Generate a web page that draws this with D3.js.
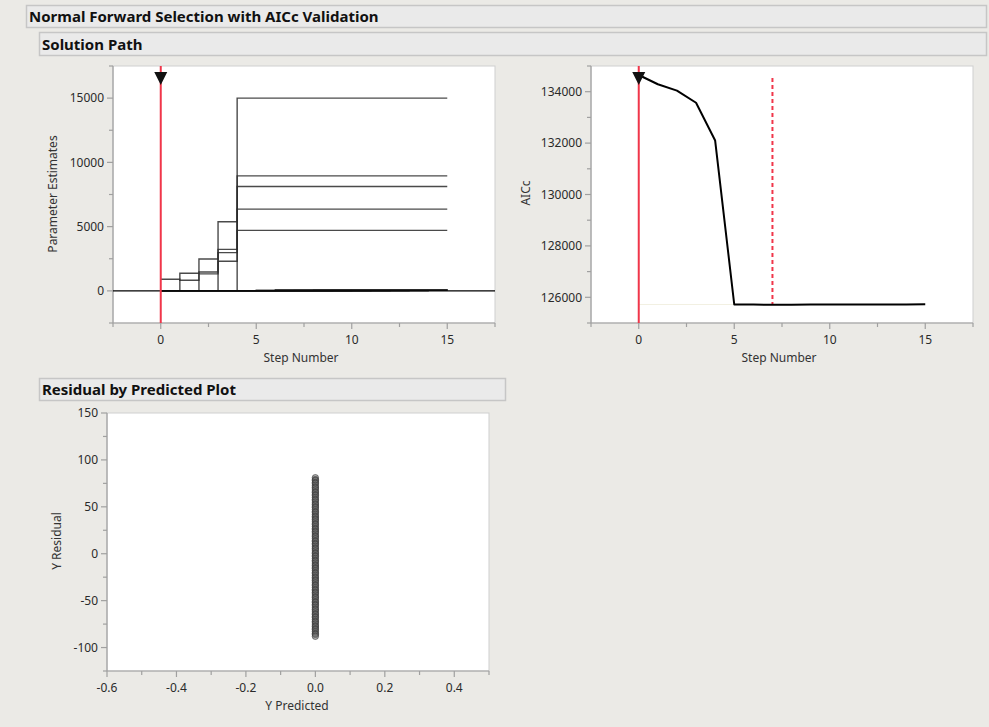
<!DOCTYPE html>
<html>
<head>
<meta charset="utf-8">
<script src="https://cdn.jsdelivr.net/npm/d3@7"></script>
<style>
  body { margin: 0; background: #ebeae6; }
  svg { display: block; font-family: "Noto Sans", sans-serif; }
</style>
</head>
<body>
<svg width="989" height="727"></svg>
<script>
// step numbers of the forward selection
const stepNumbers = [0, 1, 2, 3, 4, 5, 6, 7, 8, 9, 10, 11, 12, 13, 14, 15];

// parameter estimates per step (one array per term)
const estA = [900, 830, 1320, 2300, 4710, 4710, 4710, 4710, 4710, 4710, 4710, 4710, 4710, 4710, 4710, 4710];
const estB = [0, 1370, 1470, 2975, 6360, 6360, 6360, 6360, 6360, 6360, 6360, 6360, 6360, 6360, 6360, 6360];
const estC = [0, 0, 2480, 3230, 8120, 8120, 8120, 8120, 8120, 8120, 8120, 8120, 8120, 8120, 8120, 8120];
const estD = [0, 0, 0, 5380, 15000, 15000, 15000, 15000, 15000, 15000, 15000, 15000, 15000, 15000, 15000, 15000];
const estE = [0, 0, 0, 0, 8950, 8950, 8950, 8950, 8950, 8950, 8950, 8950, 8950, 8950, 8950, 8950];
const estF = [0, 0, 0, 0, 0, 60, 60, 60, 60, 60, 60, 60, 60, 60, 60, 60];
const estG = [0, 0, 0, 0, 0, 0, 85, 85, 85, 85, 85, 85, 85, 85, 85, 85];
const estH = [0, 0, 0, 0, 0, 0, 0, 40, 40, 40, 40, 40, 40, 40, 40, 40];
const estI = [0, 0, 0, 0, 0, 0, 0, 0, 95, 95, 95, 95, 95, 95, 95, 95];
const estJ = [0, 0, 0, 0, 0, 0, 0, 0, 0, 70, 70, 70, 70, 70, 70, 70];
const estK = [0, 0, 0, 0, 0, 0, 0, 0, 0, 0, 55, 55, 55, 55, 55, 55];
const estL = [0, 0, 0, 0, 0, 0, 0, 0, 0, 0, 0, 80, 80, 80, 80, 80];
const estM = [0, 0, 0, 0, 0, 0, 0, 0, 0, 0, 0, 0, 45, 45, 45, 45];
const estN = [0, 0, 0, 0, 0, 0, 0, 0, 0, 0, 0, 0, 0, 90, 90, 90];
const estO = [0, 0, 0, 0, 0, 0, 0, 0, 0, 0, 0, 0, 0, 0, 65, 65];
const estimateSeries = [estA, estB, estC, estD, estE, estF, estG, estH, estI, estJ, estK, estL, estM, estN, estO];

// AICc per step
const aicc = [134650, 134290, 134040, 133570, 132100, 125720, 125716, 125712, 125714, 125716, 125718, 125719, 125720, 125722, 125724, 125728];
const bestStep = 7;
const currentStep = 0;

// residual by predicted (all predictions are 0)
const predicted = 0;
const residuals = [81, 79, 78, 76, 75, 73, 71, 70, 68, 66, 65, 63, 62, 60, 58, 57, 55, 53, 52, 50,
  49, 47, 45, 44, 42, 40, 39, 37, 36, 34, 32, 31, 29, 27, 26, 24, 23, 21, 19, 18,
  16, 14, 13, 11, 10, 8, 6, 5, 3, 1, 0, -2, -3, -5, -7, -8, -10, -12, -13, -15,
  -16, -18, -20, -21, -23, -25, -26, -28, -29, -31, -33, -34, -36, -38, -39, -41,
  -42, -44, -46, -47, -49, -51, -52, -54, -55, -57, -59, -60, -62, -64, -65, -67,
  -68, -70, -72, -73, -75, -77, -78, -80, -81, -83, -85, -86, -88];

// tick labels
const stepTicks = [0, 5, 10, 15];
const stepMinor = [-2.5, 2.5, 7.5, 12.5, 17.5];
const estTicks = [0, 5000, 10000, 15000];
const estMinor = [-2500, 2500, 7500, 12500, 17500];
const aiccTicks = [126000, 128000, 130000, 132000, 134000];
const aiccMinor = [125000, 127000, 129000, 131000, 133000, 135000];
const predTicks = [-0.6, -0.4, -0.2, 0.0, 0.2, 0.4];
const predMinor = [-0.5, -0.3, -0.1, 0.1, 0.3, 0.5];
const residTicks = [-100, -50, 0, 50, 100, 150];
const residMinor = [-125, -75, -25, 25, 75, 125];

const svg = d3.select('svg');
const RED = '#f0364a';

// outline header boxes
function header(x, y, w, h, label, ty) {
  svg.append('rect')
    .attr('x', x + 0.5).attr('y', y + 0.5).attr('width', w).attr('height', h)
    .attr('fill', '#eaeaea').attr('stroke', '#c6c6c6').attr('stroke-width', 1.5);
  svg.append('text').attr('x', x + 3).attr('y', ty)
    .attr('font-size', 15).attr('font-weight', 'bold').attr('fill', '#111')
    .text(label);
}
header(26, 5, 960, 22, 'Normal Forward Selection with AICc Validation', 21.5);
header(39, 32, 947, 23, 'Solution Path', 49.5);
header(39, 378, 466, 22, 'Residual by Predicted Plot', 394.5);

// frame + axes for one plot
function plotFrame(box, x, y, xt, xm, yt, ym, xfmt, yfmt) {
  const g = svg.append('g');
  g.append('rect')
    .attr('x', box.l).attr('y', box.t).attr('width', box.r - box.l).attr('height', box.b - box.t)
    .attr('fill', '#fff').attr('stroke', '#cfcfcf');
  const ax = g.append('g').attr('stroke', '#a0a0a0').attr('stroke-width', 1.2);
  ax.append('line').attr('x1', box.l).attr('x2', box.r).attr('y1', box.b).attr('y2', box.b);
  ax.append('line').attr('x1', box.l).attr('x2', box.l).attr('y1', box.t).attr('y2', box.b);
  xt.concat(xm).forEach(v => {
    ax.append('line').attr('x1', x(v)).attr('x2', x(v)).attr('y1', box.b).attr('y2', box.b + (xt.includes(v) ? 6 : 4));
  });
  yt.concat(ym).forEach(v => {
    ax.append('line').attr('y1', y(v)).attr('y2', y(v)).attr('x1', box.l).attr('x2', box.l - (yt.includes(v) ? 6 : 4));
  });
  g.append('g').selectAll('text').data(xt).join('text')
    .attr('x', d => x(d)).attr('y', box.b + 21)
    .attr('text-anchor', 'middle').attr('font-size', 12).attr('fill', '#2a2a2a')
    .text(xfmt);
  g.append('g').selectAll('text').data(yt).join('text')
    .attr('x', box.l - 9).attr('y', d => y(d)).attr('dy', '0.35em')
    .attr('text-anchor', 'end').attr('font-size', 12).attr('fill', '#2a2a2a')
    .text(yfmt);
  return g;
}

function axisTitle(label, x, y, rotate) {
  svg.append('text')
    .attr('transform', `translate(${x},${y})` + (rotate ? ' rotate(-90)' : ''))
    .attr('text-anchor', 'middle').attr('dy', '0.35em')
    .attr('font-size', 12).attr('fill', '#333')
    .text(label);
}

function handle(x, yTop) {
  svg.append('path')
    .attr('d', `M${x - 6.5},${yTop} L${x + 6.5},${yTop} L${x},${yTop + 13} Z`)
    .attr('fill', '#111');
}

// ---------- Parameter Estimates plot ----------
const box1 = {l: 113, r: 495, t: 66, b: 323};
const x1 = d3.scaleLinear().domain([-2.5, 17.5]).range([box1.l, box1.r]);
const y1 = d3.scaleLinear().domain([-2500, 17500]).range([box1.b, box1.t]);
plotFrame(box1, x1, y1, stepTicks, stepMinor, estTicks, estMinor, d => d, d => d);
axisTitle('Parameter Estimates', 53, 194, true);
axisTitle('Step Number', 301, 358, false);

const stepLine1 = d3.line().curve(d3.curveStepAfter)
  .x((d, i) => x1(stepNumbers[i])).y(d => y1(d));
svg.append('g').selectAll('path').data(estimateSeries).join('path')
  .attr('d', stepLine1)
  .attr('fill', 'none').attr('stroke', '#2a2a2a').attr('stroke-opacity', 0.85).attr('stroke-width', 1.4);
svg.append('line')
  .attr('x1', box1.l).attr('x2', box1.r).attr('y1', y1(0)).attr('y2', y1(0))
  .attr('stroke', '#000').attr('stroke-width', 1.4);
svg.append('line')
  .attr('x1', x1(currentStep)).attr('x2', x1(currentStep)).attr('y1', box1.t).attr('y2', box1.b)
  .attr('stroke', RED).attr('stroke-width', 2);
handle(x1(currentStep), 72);

// ---------- AICc plot ----------
const box2 = {l: 591, r: 973, t: 66, b: 323};
const x2 = d3.scaleLinear().domain([-2.5, 17.5]).range([box2.l, box2.r]);
const y2 = d3.scaleLinear().domain([125000, 135000]).range([box2.b, box2.t]);
plotFrame(box2, x2, y2, stepTicks, stepMinor, aiccTicks, aiccMinor, d => d, d => d);
axisTitle('AICc', 526, 193, true);
axisTitle('Step Number', 779, 358, false);

svg.append('line')
  .attr('x1', x2(0)).attr('x2', x2(5)).attr('y1', y2(aicc[5])).attr('y2', y2(aicc[5]))
  .attr('stroke', '#f2f0e2').attr('stroke-width', 1);
svg.append('line')
  .attr('x1', x2(bestStep)).attr('x2', x2(bestStep)).attr('y1', 78).attr('y2', y2(aicc[bestStep]))
  .attr('stroke', RED).attr('stroke-width', 2).attr('stroke-dasharray', '4,3');
svg.append('path').datum(aicc)
  .attr('d', d3.line().x((d, i) => x2(stepNumbers[i])).y(d => y2(d)))
  .attr('fill', 'none').attr('stroke', '#000').attr('stroke-width', 2).attr('stroke-linejoin', 'round');
svg.append('line')
  .attr('x1', x2(currentStep)).attr('x2', x2(currentStep)).attr('y1', box2.t).attr('y2', box2.b)
  .attr('stroke', RED).attr('stroke-width', 2);
handle(x2(currentStep), 72);

// ---------- Residual by Predicted plot ----------
const box3 = {l: 107, r: 489, t: 413, b: 671};
const x3 = d3.scaleLinear().domain([-0.6, 0.5]).range([box3.l, box3.r]);
const y3 = d3.scaleLinear().domain([-125, 150]).range([box3.b, box3.t]);
plotFrame(box3, x3, y3, predTicks, predMinor, residTicks, residMinor, d => d.toFixed(1), d => d);
axisTitle('Y Residual', 57, 541, true);
axisTitle('Y Predicted', 297, 706, false);

svg.append('g').selectAll('circle').data(residuals).join('circle')
  .attr('cx', x3(predicted)).attr('cy', d => y3(d)).attr('r', 3.2)
  .attr('fill', '#6a6a6a').attr('fill-opacity', 0.5)
  .attr('stroke', '#333').attr('stroke-opacity', 0.6).attr('stroke-width', 1);
</script>
</body>
</html>
